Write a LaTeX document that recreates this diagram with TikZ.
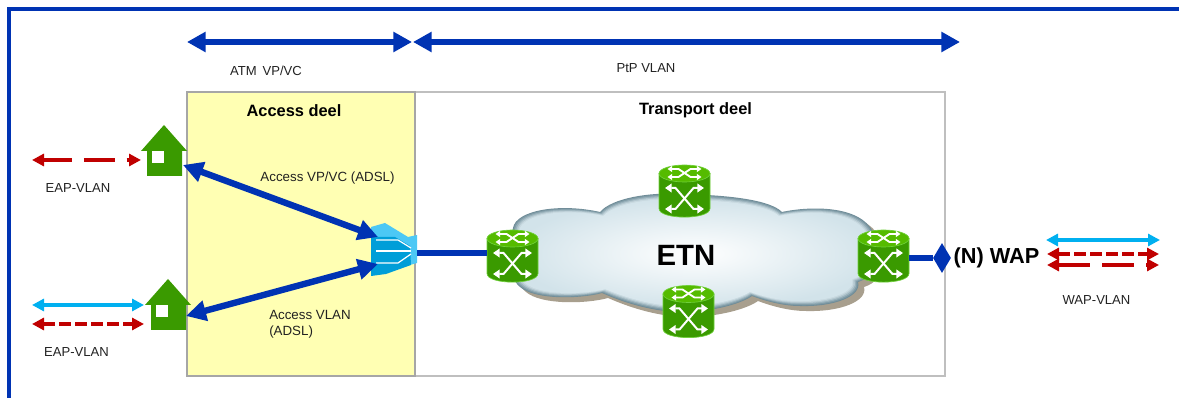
\documentclass[tikz,border=0pt]{standalone}
\usepackage{fontspec}
\setmainfont{Liberation Sans}
\usetikzlibrary{arrows.meta,shapes.geometric}
\definecolor{fblue}{HTML}{0033B3}
\definecolor{lblue}{HTML}{00B0F0}
\definecolor{dred}{HTML}{C00000}
\definecolor{hgreen}{HTML}{3A9A00}
\definecolor{rtop}{HTML}{55BB00}
\definecolor{redge}{HTML}{6FD03A}
\definecolor{yfill}{HTML}{FFFFB3}
\definecolor{gline}{HTML}{BFBFBF}
\definecolor{gdark}{HTML}{A6A6A6}
\definecolor{txt}{HTML}{222222}
\definecolor{cloudin}{HTML}{D2E3EA}
\definecolor{cloudrim}{HTML}{6F8C98}
\definecolor{cloudshadow}{HTML}{A89F8E}
\def\cloudpath{(513,228) .. controls (516,210) and (560,203) .. (600,212)
 .. controls (612,198) and (650,192) .. (680,194)
 .. controls (730,195) and (770,200) .. (782,212)
 .. controls (810,206) and (860,205) .. (873,232)
 .. controls (884,250) and (880,275) .. (858,282)
 .. controls (862,296) and (835,307) .. (800,306)
 .. controls (785,306) and (768,302) .. (752,296)
 .. controls (735,308) and (690,315) .. (665,311)
 .. controls (640,308) and (618,300) .. (602,293)
 .. controls (580,299) and (535,300) .. (520,287)
 .. controls (505,275) and (510,240) .. (513,228) -- cycle}
\tikzset{
  x=0.75pt,y=-0.75pt,
  bigarrow/.style={draw=fblue,line width=4.4pt,{Triangle[length=14pt,width=14.5pt]}-{Triangle[length=14pt,width=14.5pt]}},
  linkline/.style={draw=fblue,line width=4.8pt},
  accarrow/.style={draw=fblue,line width=4.8pt,{Triangle[length=15pt,width=15pt]}-{Triangle[length=15pt,width=15pt]}},
  smallarrow/.style={line width=3pt,{Triangle[length=9pt,width=9pt]}-{Triangle[length=9pt,width=9pt]}},
  lbl/.style={font=\fontsize{9.8}{12}\selectfont,text=txt,inner sep=0pt},
  hdr/.style={font=\fontsize{12.3}{14}\selectfont\bfseries,text=black,inner sep=0pt},
  slot/.style={inner sep=0pt,minimum width=38pt,minimum height=38pt},
  whitearr/.style={draw=white,line width=1.5pt,{Triangle[length=5pt,width=6.5pt]}-{Triangle[length=5pt,width=6.5pt]}},
  whitelet/.style={draw=white,line width=1.4pt,{Triangle[length=3.5pt,width=4.5pt]}-{Triangle[length=3.5pt,width=4.5pt]}},
  router/.pic={
    \path[fill=hgreen,draw=redge,line width=0.5pt] (-25.5,-17.5) -- (-25.5,17.5) .. controls (-25.5,29) and (25.5,29) .. (25.5,17.5) -- (25.5,-17.5) -- cycle;
    \path[fill=rtop,draw=redge,line width=0.5pt] (0,-17.5) ellipse [x radius=25.5,y radius=8.5];
    \draw[whitearr] (-19.5,-3) -- (-9,-3) -- (9,18) -- (19.5,18);
    \draw[whitearr] (19.5,-3) -- (9,-3) -- (-9,18) -- (-19.5,18);
    \draw[whitelet] (-17,-22) -- (-6,-22) -- (6,-14) -- (17,-14);
    \draw[whitelet] (17,-22) -- (6,-22) -- (-6,-14) -- (-17,-14);
  },
  house/.pic={
    \fill[hgreen] (0,0) -- (23,26) -- (18,26) -- (18,51) -- (-17,51) -- (-17,26) -- (-23,26) -- cycle;
    \fill[white] (-12,26) rectangle (0,38);
  },
}
\begin{document}
\begin{tikzpicture}
\useasboundingbox (0,0) rectangle (1179,398);
% outer frame
\coordinate (fa) at (9,398);
\coordinate (fb) at (9,9);
\coordinate (fc) at (1179,9);
\draw[fblue,line width=2.5pt] (fa) -- (fb) -- (fc);
% parts
\node[draw=gline,line width=1.9pt,fill=white,inner sep=0pt,minimum width=397.5pt,minimum height=213pt] (transport) at (680,234) {};
\node[draw=gdark,line width=1.9pt,fill=yfill,inner sep=0pt,minimum width=171pt,minimum height=213pt] (access) at (301,234) {};
% top arrows
\coordinate (ta) at (187,42);
\coordinate (tb) at (412,42);
\coordinate (tc) at (413,42);
\coordinate (td) at (960,42);
\draw[bigarrow] (ta) -- (tb);
\draw[bigarrow] (tc) -- (td);
\node[lbl] (atm) at (266,71) {ATM\, VP/VC};
\node[lbl] (ptp) at (646,68) {PtP VLAN};
\node[hdr] (acc) at (294,111) {Access deel};
\node[hdr] (tra) at (695.5,110) {Transport deel};
% cloud
\fill[cloudshadow,shift={(6,5)}] \cloudpath;
\fill[cloudrim] \cloudpath;
\foreach \sx/\sy/\c in {0.995/0.985/7F9BA6,0.988/0.965/98B0BA,0.98/0.945/B3C7CF,0.972/0.925/C8D9E0}{
  \definecolor{cc}{HTML}{\c}
  \fill[cc,shift={(694,253)},xscale=\sx,yscale=\sy,shift={(-694,-253)}] \cloudpath;
}
\shade[inner color=white,outer color=cloudin,shift={(694,253)},xscale=0.965,yscale=0.905,shift={(-694,-253)}] \cloudpath;
\node[font=\fontsize{22}{26}\selectfont\bfseries,inner sep=0pt] (etn) at (686,255) {ETN};
% routers
\node[slot] (r1) at (512.5,256) {};
\node[slot] (r2) at (684.5,191) {};
\node[slot] (r3) at (688.5,311.5) {};
\node[slot] (r4) at (883.5,256) {};
\pic at (r1) {router};
\pic at (r2) {router};
\pic at (r3) {router};
\pic at (r4) {router};
% mux
\node[inner sep=0pt,minimum width=34.5pt,minimum height=34.5pt] (mux) at (394,253) {};
\fill[lblue!70!white] (371,227) -- (385,223) -- (408,237) -- (417,235) -- (417,263) -- (371,276) -- cycle;
\fill[black!10!lblue] (371,237) -- (395,237) -- (410,246) -- (411,265) -- (386,274) -- (371,276) -- cycle;
\draw[white,line width=0.9pt] (376,240) -- (398,240) -- (411,248);
\draw[white,line width=0.9pt] (376,251) -- (411,251);
\draw[white,line width=0.9pt] (376,263) -- (398,263) -- (411,254);
% houses
\node[inner sep=0pt,minimum width=30pt,minimum height=38pt] (h1) at (164,150) {};
\node[inner sep=0pt,minimum width=30pt,minimum height=38pt] (h2) at (168,304) {};
\pic at (164,125) {house};
\pic at (168,279) {house};
% links
\coordinate (h1p) at (183,165);
\coordinate (h2p) at (186,316);
\coordinate (ma) at (378,237);
\coordinate (mb) at (378,264);
\draw[accarrow] (h1p) -- (ma);
\draw[accarrow] (h2p) -- (mb);
\node[lbl,font=\fontsize{10}{12}\selectfont] (vpvc) at (327.5,178) {Access VP/VC (ADSL)};
\node[lbl,align=left,anchor=north west,font=\fontsize{10}{12}\selectfont] (vlan) at (269,310) {Access VLAN\\(ADSL)};
\draw[linkline] (mux.east) -- (mux.east -| r1.west);
\node[diamond,fill=fblue,inner sep=0pt,minimum width=13.5pt,minimum height=22.5pt] (wapd) at (942,258) {};
\draw[linkline] (r4.east |- wapd) -- (wapd);
\node[font=\fontsize{16.3}{20}\selectfont\bfseries,inner sep=0pt] (wap) at (996.5,258) {(N) WAP};
% small arrows left
\coordinate (a1) at (32,160); \coordinate (a2) at (141,160);
\coordinate (a3) at (32,305); \coordinate (a4) at (144,305);
\coordinate (a5) at (32,324); \coordinate (a6) at (144,324);
\draw[smallarrow,dred,dash pattern=on 21.5pt off 9pt on 23pt off 9pt] (a1) -- (a2);
\draw[smallarrow,lblue] (a3) -- (a4);
\draw[smallarrow,dred,dash pattern=on 8.5pt off 3.5pt] (a5) -- (a6);
\node[lbl] (e1) at (78,188) {EAP-VLAN};
\node[lbl] (e2) at (76.5,352) {EAP-VLAN};
% small arrows right
\coordinate (b1) at (1046,240); \coordinate (b2) at (1160,240);
\coordinate (b3) at (1047,254); \coordinate (b4) at (1159,254);
\coordinate (b5) at (1047,265); \coordinate (b6) at (1159,265);
\draw[smallarrow,lblue] (b1) -- (b2);
\draw[smallarrow,dred,dash pattern=on 8.5pt off 3.5pt] (b3) -- (b4);
\draw[smallarrow,dred,dash pattern=on 24pt off 9pt] (b5) -- (b6);
\node[lbl] (w1) at (1096.5,300) {WAP-VLAN};
\end{tikzpicture}
\end{document}
